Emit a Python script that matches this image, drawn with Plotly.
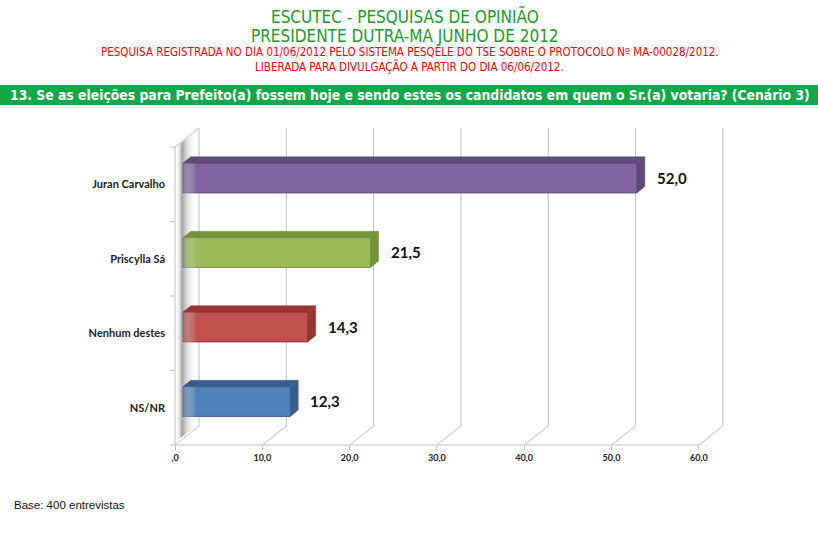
import plotly.graph_objects as go

# chart data
categories = ["NS/NR", "Nenhum destes", "Priscylla Sá", "Juran Carvalho"]
values = [12.3, 14.3, 21.5, 52.0]
front_colors = ["#4F81BD", "#C0504D", "#9BBB59", "#8064A2"]
dark_colors = ["#385D8A", "#943634", "#76923C", "#5F497A"]
tick_values = [0, 10, 20, 30, 40, 50, 60]
tick_labels = [",0", "10,0", "20,0", "30,0", "40,0", "50,0", "60,0"]

W, H = 818, 544
PX_X = 8.73          # pixels per value unit
PX_Y = 74.5          # pixels per category
X0_PX, FLOOR_PX = 175, 445

# fake 3D depth, in data units
DX = 24 / PX_X
DY = 19 / PX_Y
BAR_F = 0.33         # depth of the bar front inside the box
BAR_T = 0.33         # bar thickness in depth
BAR_H = 0.4
GRID = "#BFBFBF"

x_range = [-X0_PX / PX_X, (W - X0_PX) / PX_X]
y_range = [-(H - FLOOR_PX) / PX_Y - 0.5, FLOOR_PX / PX_Y - 0.5]

fig = go.Figure()
shapes = []

def line(x0, y0, x1, y1, color=GRID, width=1):
    shapes.append(dict(type="line", xref="x", yref="y", x0=x0, y0=y0, x1=x1, y1=y1,
                       line=dict(color=color, width=width), layer="below"))

n = len(categories)
y_lo, y_hi = -0.5, n - 0.5

# left wall shadow
fig.add_trace(go.Scatter(
    x=[0.1, 0.1, DX * 0.9, DX * 0.9, 0.1], y=[y_lo + 0.05, y_hi, y_hi + DY * 0.8, y_lo + DY, y_lo + 0.05],
    fill="toself", mode="none", hoverinfo="skip", showlegend=False,
    fillgradient=dict(type="horizontal",
                      colorscale=[[0, "rgba(255,255,255,0)"], [0.3, "rgba(120,120,120,0.7)"],
                                  [0.55, "rgba(180,180,180,0.45)"], [1, "rgba(255,255,255,0)"]])))

# walls and floor
line(0, y_lo, 0, y_hi)
line(0, y_hi, DX, y_hi + DY)
line(0, y_lo, tick_values[-1], y_lo)
for v in tick_values:
    line(v, y_lo, v + DX, y_lo + DY)
    line(v + DX, y_lo + DY, v + DX, y_hi + DY)
for k in range(n + 1):
    line(-0.55, y_lo + k, 0, y_lo + k)

base = BAR_F * DX
ysh = BAR_F * DY
tdx, tdy = BAR_T * DX, BAR_T * DY
for i, (cat, v) in enumerate(zip(categories, values)):
    yc = i + ysh
    top, bot = yc + BAR_H / 2, yc - BAR_H / 2
    x1 = base + v
    # top face
    fig.add_trace(go.Scatter(
        x=[base, x1, x1 + tdx, base + tdx, base],
        y=[top, top, top + tdy, top + tdy, top],
        fill="toself", mode="lines", line=dict(color=dark_colors[i], width=0.5),
        fillcolor=dark_colors[i], hoverinfo="skip", showlegend=False))
    # side face
    fig.add_trace(go.Scatter(
        x=[x1, x1 + tdx, x1 + tdx, x1, x1],
        y=[bot, bot + tdy, top + tdy, top, bot],
        fill="toself", mode="lines", line=dict(color=dark_colors[i], width=0.5),
        fillcolor=dark_colors[i], hoverinfo="skip", showlegend=False))

# front faces
fig.add_trace(go.Bar(
    y=[i + ysh for i in range(n)], x=values, base=base, orientation="h", width=BAR_H,
    marker=dict(color=front_colors, line=dict(color=dark_colors, width=1)),
    hovertext=categories, showlegend=False))

annotations = []
for i, v in enumerate(values):
    annotations.append(dict(
        x=base + v + tdx, y=i + ysh, xref="x", yref="y", xanchor="left", yanchor="middle",
        xshift=10, text=f"{v:.1f}".replace(".", ","), showarrow=False,
        font=dict(family="Lato", size=15, color="#111111", weight="bold")))

GREEN = "#1C9A2A"
NARROW = "DejaVu Sans Condensed, Liberation Sans"

def ptext(text, x, y, size, color, xanchor="center", family=NARROW, bold=False):
    annotations.append(dict(
        x=x, y=y, xref="paper", yref="paper", xanchor=xanchor, yanchor="middle",
        text=text, showarrow=False,
        font=dict(family=family, size=size, color=color, weight="bold" if bold else "normal")))

ptext("ESCUTEC - PESQUISAS DE OPINIÃO", 0.495, 1 - 16 / H, 17, GREEN)
ptext("PRESIDENTE DUTRA-MA JUNHO DE 2012", 0.495, 1 - 36 / H, 17, GREEN)
ptext("PESQUISA REGISTRADA NO DIA 01/06/2012 PELO SISTEMA PESQELE DO TSE SOBRE O PROTOCOLO Nº MA-00028/2012.",
      0.501, 1 - 52 / H, 11.5, "#FF0000")
ptext("LIBERADA PARA DIVULGAÇÃO A PARTIR DO DIA 06/06/2012.", 0.501, 1 - 66 / H, 11.5, "#FF0000")

shapes.append(dict(type="rect", xref="paper", yref="paper", x0=0, x1=1,
                   y0=1 - 105 / H, y1=1 - 85 / H, fillcolor="#12A84A", line=dict(width=0),
                   layer="below"))
ptext("13. Se as eleições para Prefeito(a) fossem hoje e sendo estes os candidatos em quem o Sr.(a) votaria? (Cenário 3)",
      8 / W, 1 - 95 / H, 13.8, "white", xanchor="left", bold=True)
ptext("Base: 400 entrevistas", 12 / W, 1 - 505 / H, 11.5, "#111111", xanchor="left",
      family="Liberation Sans")

fig.update_layout(
    width=W, height=H, margin=dict(l=0, r=0, t=0, b=0),
    plot_bgcolor="white", paper_bgcolor="white",
    shapes=shapes, annotations=annotations,
    xaxis=dict(range=x_range, showgrid=False, zeroline=False, anchor="free",
               position=(H - FLOOR_PX) / H, tickvals=tick_values, ticktext=tick_labels,
               ticks="outside", ticklen=4, tickcolor=GRID, showline=False,
               tickfont=dict(family="Lato", size=9, color="#222222", weight="bold"),
               fixedrange=True),
    yaxis=dict(range=y_range, showgrid=False, zeroline=False, anchor="free",
               position=X0_PX / W, tickvals=list(range(n)), ticktext=categories,
               ticks="", ticklabelstandoff=10,
               tickfont=dict(family="Lato", size=11, color="#222222", weight="bold"),
               fixedrange=True),
)

fig.write_html("out.html", config={"displayModeBar": False},
               post_script="document.body.style.margin = '0';")
